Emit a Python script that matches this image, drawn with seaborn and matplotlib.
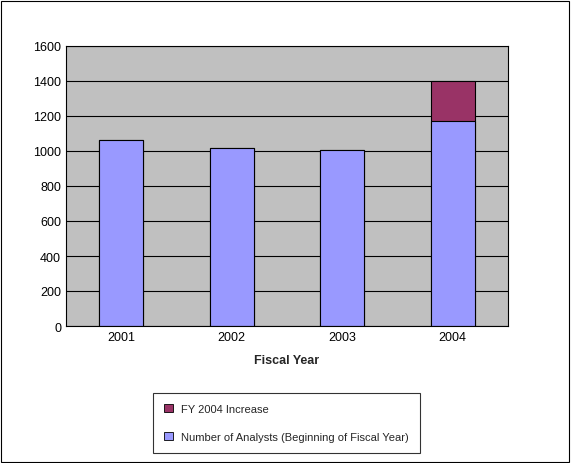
import matplotlib
matplotlib.use("Agg")
import matplotlib.pyplot as plt
import seaborn as sns
import pandas as pd
from matplotlib.patches import Rectangle

years = ["2001", "2002", "2003", "2004"]
analysts = [1065, 1018, 1008, 1172]
increase = [0, 0, 0, 230]

sns.set_theme(style="white")
plt.rcParams['font.family'] = ['Liberation Sans', 'DejaVu Sans']

fig = plt.figure(figsize=(5.71, 4.64), dpi=100)
ax = fig.add_axes([66/571, 1 - 327/464, 442/571, 280/464])
ax.set_facecolor("#c0c0c0")

df = pd.DataFrame({"year": years, "analysts": analysts,
                   "total": [a + b for a, b in zip(analysts, increase)]})
sns.barplot(data=df, x="year", y="total", color="#993366", width=0.4,
            edgecolor="black", linewidth=0.8, saturation=1, ax=ax)
sns.barplot(data=df, x="year", y="analysts", color="#9999ff", width=0.4,
            edgecolor="black", linewidth=0.8, saturation=1, ax=ax)

ax.set_ylim(0, 1600)
ax.set_yticks(range(0, 1601, 200))
ax.yaxis.grid(True, color="black", linewidth=0.8)
ax.set_axisbelow(True)
for s in ax.spines.values():
    s.set_color("black")
    s.set_linewidth(0.8)
ax.tick_params(axis="both", labelsize=9, colors="black", length=0)
ax.set_xlabel("Fiscal Year", fontsize=9, fontweight="bold", labelpad=8)
ax.set_ylabel("")

handles = [Rectangle((0, 0), 1, 1, facecolor="#993366", edgecolor="black", linewidth=0.6),
           Rectangle((0, 0), 1, 1, facecolor="#9999ff", edgecolor="black", linewidth=0.6)]
labels = ["FY 2004 Increase", "Number of Analysts (Beginning of Fiscal Year)"]
leg = fig.legend(handles, labels, loc="upper left", bbox_to_anchor=(147/571, 1 - 388/464),
                 fontsize=8, frameon=True, fancybox=False, borderpad=1.0,
                 labelspacing=1.6, handlelength=0.8, handleheight=0.8)
leg.get_frame().set_edgecolor("black")
leg.get_frame().set_linewidth(0.8)

fig.patches.append(Rectangle((0.002, 0.002), 0.994, 0.994, transform=fig.transFigure,
                             fill=False, edgecolor="black", linewidth=0.8))
fig.savefig("out.png", dpi=100)
